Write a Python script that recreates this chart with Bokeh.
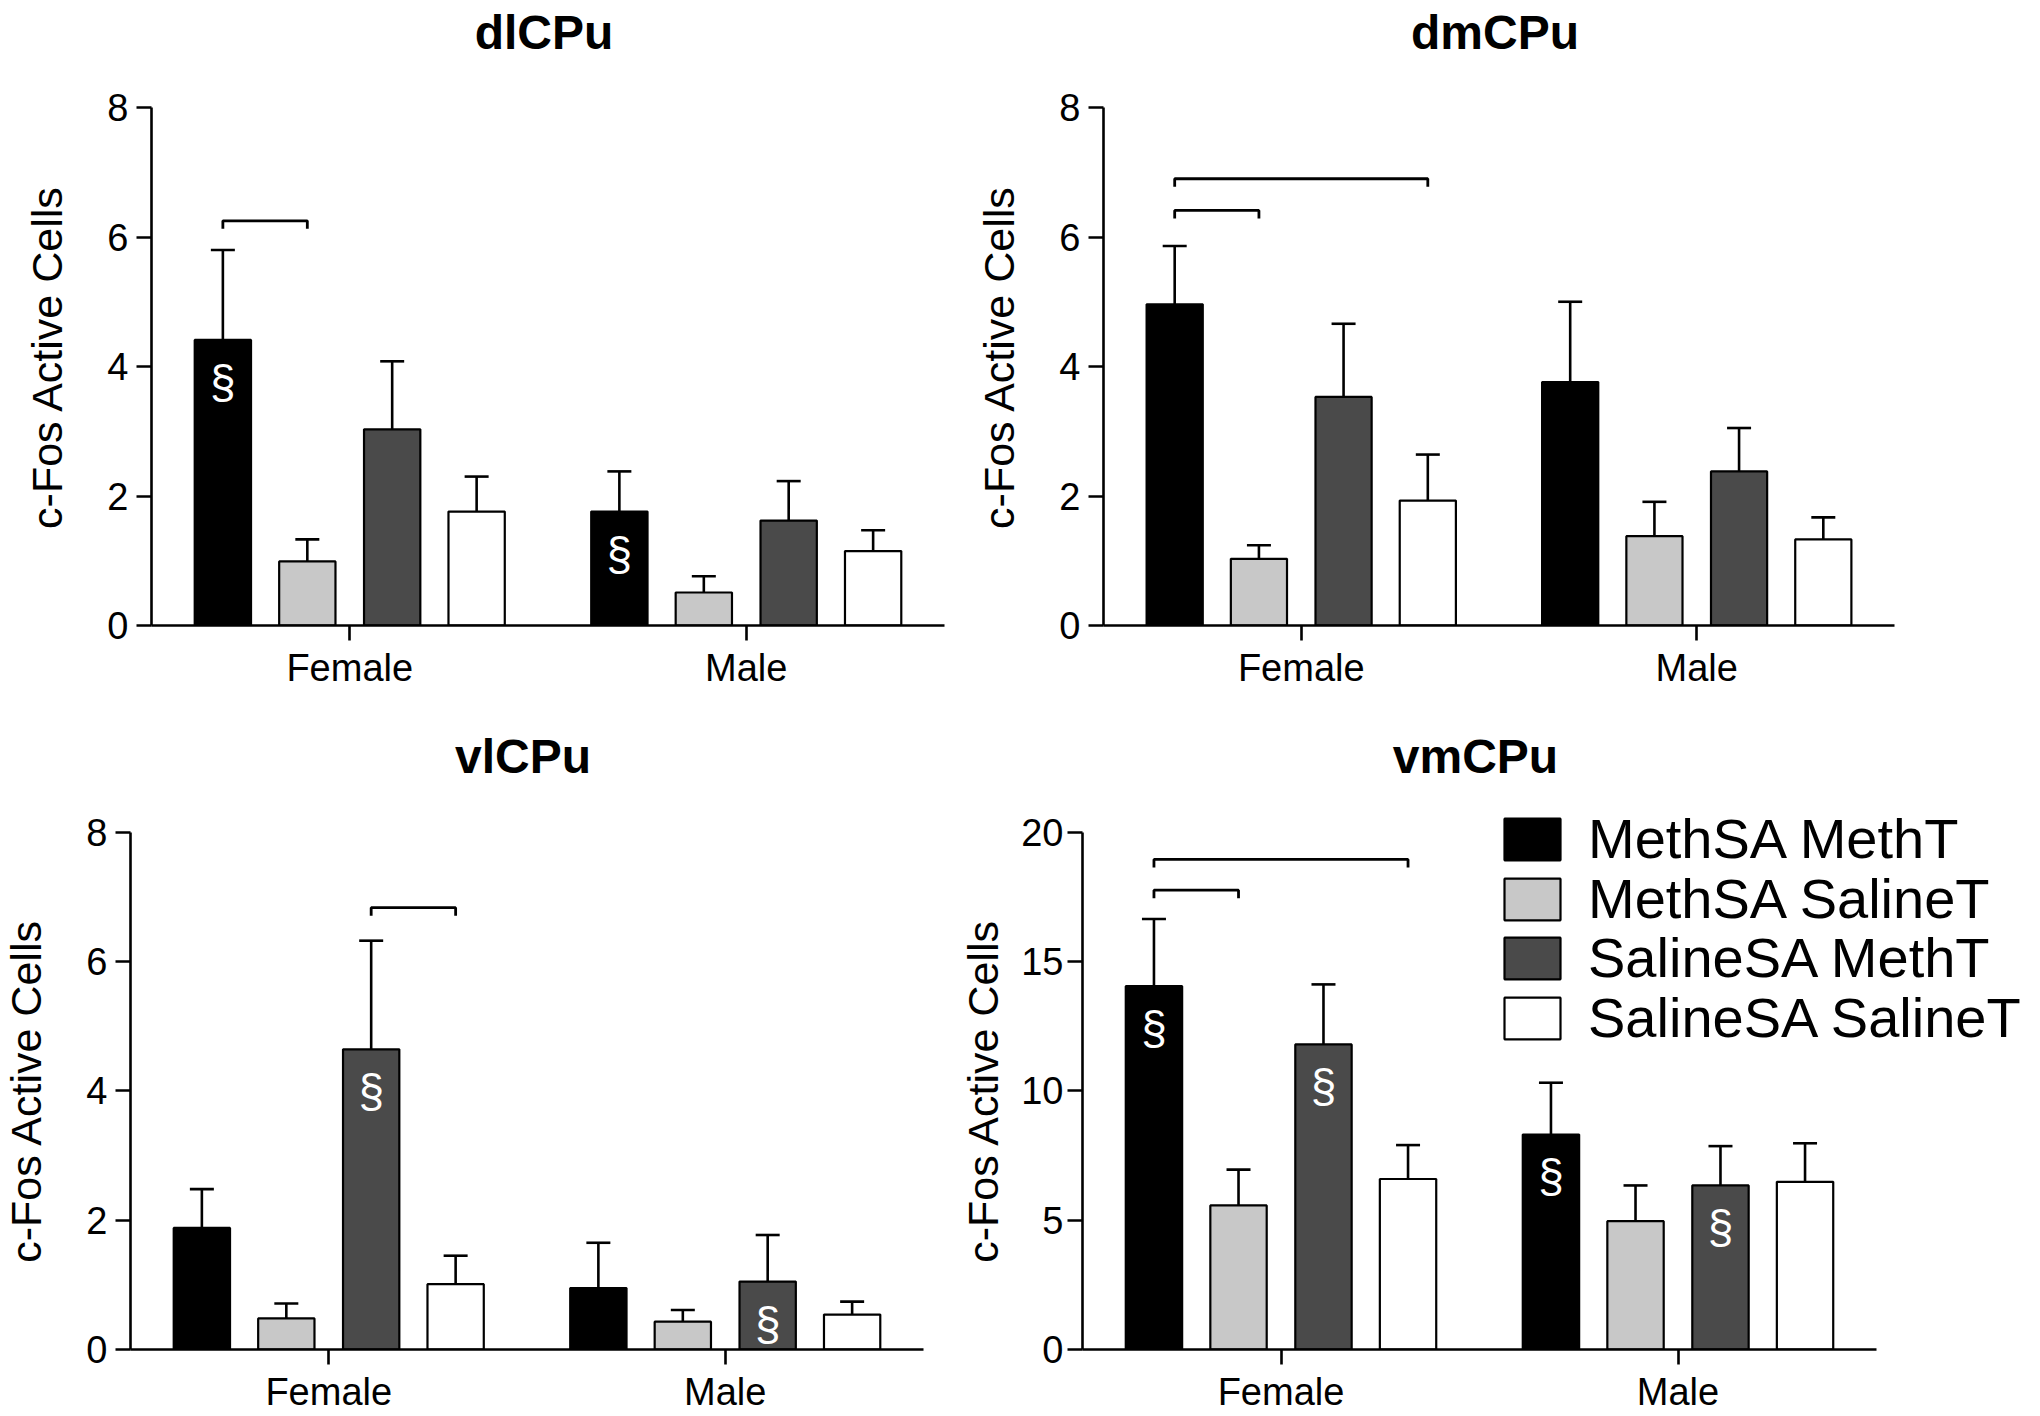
import math
from bokeh.plotting import figure
from bokeh.models import (Range1d, FixedTicker, ColumnDataSource, Whisker, TeeHead,
                          Legend, LegendItem)
from bokeh.layouts import column, row
from bokeh.embed import file_html
from bokeh.resources import INLINE
from bokeh.core.properties import value

# ---------------- data ----------------
GROUPS = ["Female", "Male"]
SERIES = ["MethSA MethT", "MethSA SalineT", "SalineSA MethT", "SalineSA SalineT"]
Y_LABEL = "c-Fos Active Cells"

# dlCPu
DL_FEMALE_MEAN = [4.41, 0.99, 3.03, 1.76]
DL_FEMALE_SEM = [1.39, 0.34, 1.05, 0.54]
DL_MALE_MEAN = [1.76, 0.51, 1.62, 1.15]
DL_MALE_SEM = [0.62, 0.25, 0.61, 0.32]
DL_SECTIONS = [("Female", 0), ("Male", 0)]
DL_BRACKETS = [("Female", 0, 1, 6.25)]
DL_TICKS = [0, 2, 4, 6, 8]

# dmCPu
DM_FEMALE_MEAN = [4.96, 1.03, 3.53, 1.93]
DM_FEMALE_SEM = [0.90, 0.21, 1.13, 0.71]
DM_MALE_MEAN = [3.76, 1.38, 2.38, 1.33]
DM_MALE_SEM = [1.24, 0.53, 0.67, 0.34]
DM_SECTIONS = []
DM_BRACKETS = [("Female", 0, 1, 6.41), ("Female", 0, 3, 6.90)]
DM_TICKS = [0, 2, 4, 6, 8]

# vlCPu
VL_FEMALE_MEAN = [1.88, 0.48, 4.64, 1.01]
VL_FEMALE_SEM = [0.60, 0.23, 1.68, 0.44]
VL_MALE_MEAN = [0.95, 0.43, 1.05, 0.54]
VL_MALE_SEM = [0.70, 0.18, 0.72, 0.20]
VL_SECTIONS = [("Female", 2), ("Male", 2)]
VL_BRACKETS = [("Female", 2, 3, 6.83)]
VL_TICKS = [0, 2, 4, 6, 8]

# vmCPu
VM_FEMALE_MEAN = [14.04, 5.57, 11.79, 6.59]
VM_FEMALE_SEM = [2.60, 1.38, 2.32, 1.31]
VM_MALE_MEAN = [8.31, 4.96, 6.34, 6.48]
VM_MALE_SEM = [2.00, 1.38, 1.52, 1.49]
VM_SECTIONS = [("Female", 0), ("Female", 2), ("Male", 0), ("Male", 2)]
VM_BRACKETS = [("Female", 0, 1, 17.75), ("Female", 0, 3, 18.94)]
VM_TICKS = [0, 5, 10, 15, 20]

# ---------------- style ----------------
FONT = "Liberation Sans"
COLORS = ["#000000", "#c8c8c8", "#4a4a4a", "#ffffff"]
CENTERS = [0.5, 1.5]
OFFSETS = [-0.32, -0.107, 0.107, 0.32]
BAR_W = 0.142


def style_fig(p):
    p.outline_line_color = None
    p.grid.visible = False
    p.background_fill_color = "white"
    p.border_fill_color = "white"


def make_ylabel(width, height, baseline_x, center_from_top):
    """Narrow strip holding the rotated y-axis title of a panel."""
    p = figure(width=width, height=height, output_backend="svg", toolbar_location=None,
               x_range=Range1d(0, width), y_range=Range1d(0, height),
               x_axis_type=None, y_axis_type=None,
               min_border_left=0, min_border_right=0, min_border_top=0, min_border_bottom=0)
    style_fig(p)
    p.text(x=[baseline_x], y=[height - center_from_top], text=[Y_LABEL], angle=math.pi / 2,
           text_font=value(FONT), text_font_size="43px", text_align="center",
           text_baseline="alphabetic", text_color="black")
    return p


def make_panel(title, f_mean, f_sem, m_mean, m_sem, sections, brackets, ticks,
               width, height, frame_left, axis_top, axis_y, xppu,
               tick_standoff, legend_rows=None):
    ymax = ticks[-1]
    yppu = (axis_y - axis_top) / ymax
    frame_w = width - frame_left
    p = figure(width=width, height=height, output_backend="svg", toolbar_location=None,
               x_range=Range1d(0, frame_w / xppu), y_range=Range1d(0, axis_y / yppu),
               min_border_left=frame_left, min_border_right=0, min_border_top=0,
               min_border_bottom=height - axis_y)
    style_fig(p)

    means = [f_mean, m_mean]
    sems = [f_sem, m_sem]
    renderers = []
    for i, name in enumerate(SERIES):
        xs = [c + OFFSETS[i] for c in CENTERS]
        tops = [means[g][i] for g in range(2)]
        ups = [means[g][i] + sems[g][i] for g in range(2)]
        src = ColumnDataSource(dict(x=xs, top=tops, up=ups))
        w = Whisker(source=src, base="x", lower="top", upper="up", dimension="height",
                    line_color="black", line_width=2.6,
                    upper_head=TeeHead(size=24, line_width=2.6, line_color="black"),
                    lower_head=None)
        p.add_layout(w)
        r = p.vbar(x="x", top="top", bottom=0, width=BAR_W, source=src,
                   fill_color=COLORS[i], line_color="black", line_width=2.2)
        renderers.append(r)

    # section signs
    if sections:
        sx = [CENTERS[GROUPS.index(g)] + OFFSETS[i] for g, i in sections]
        sy = [means[GROUPS.index(g)][i] for g, i in sections]
        p.text(x=sx, y=sy, text=["\u00a7"] * len(sx), text_color="white",
               text_font=value(FONT), text_font_size="46px", text_align="center",
               text_baseline="middle", y_offset=42)

    # significance brackets
    drop = 8.0 / yppu
    bxs, bys = [], []
    for g, i, j, h in brackets:
        c = CENTERS[GROUPS.index(g)]
        x1, x2 = c + OFFSETS[i], c + OFFSETS[j]
        bxs.append([x1, x1, x2, x2])
        bys.append([h - drop, h, h, h - drop])
    if bxs:
        p.multi_line(xs=bxs, ys=bys, line_color="black", line_width=2.8)

    # panel title
    p.text(x=[1.0 - 4.0 / xppu], y=[ymax * 9.16 / 8.0], text=[title],
           text_font=value(FONT), text_font_style="bold", text_font_size="48px",
           text_align="center", text_baseline="middle", text_color="black")

    # axes
    xa = p.xaxis[0]
    xa.ticker = FixedTicker(ticks=CENTERS)
    xa.major_label_overrides = {CENTERS[0]: GROUPS[0], CENTERS[1]: GROUPS[1]}
    xa.bounds = (0, 2)
    xa.minor_tick_line_color = None
    xa.major_tick_in = 0
    xa.major_tick_out = 15
    xa.major_label_standoff = 6
    xa.major_label_text_font = FONT
    xa.major_label_text_font_size = "38px"
    xa.major_label_text_color = "black"
    xa.axis_line_width = 2.6
    xa.major_tick_line_width = 2.6
    xa.axis_line_color = "black"
    xa.major_tick_line_color = "black"

    ya = p.yaxis[0]
    ya.ticker = FixedTicker(ticks=ticks)
    ya.bounds = (0, ymax)
    ya.minor_tick_line_color = None
    ya.major_tick_in = 0
    ya.major_tick_out = 15
    ya.major_label_standoff = tick_standoff
    ya.major_label_text_font = FONT
    ya.major_label_text_font_size = "38px"
    ya.major_label_text_color = "black"
    ya.axis_line_width = 2.6
    ya.major_tick_line_width = 2.6
    ya.axis_line_color = "black"
    ya.major_tick_line_color = "black"

    if legend_rows is not None:
        lx, lys = legend_rows
        for i, name in enumerate(SERIES):
            lg = Legend(items=[LegendItem(label=name, renderers=[renderers[i]])],
                        location=(lx, lys[i]), orientation="vertical",
                        glyph_width=70, glyph_height=52, label_standoff=21,
                        label_text_font=FONT, label_text_font_size="56px",
                        label_text_color="black", label_height=52, spacing=0,
                        padding=0, margin=0, border_line_color=None,
                        background_fill_alpha=0)
            p.add_layout(lg, "center")
    return p


TOP_H = 712
BOT_H = 704

l1 = make_ylabel(90, TOP_H, 46, 406)
p1 = make_panel("dlCPu", DL_FEMALE_MEAN, DL_FEMALE_SEM, DL_MALE_MEAN, DL_MALE_SEM,
                DL_SECTIONS, DL_BRACKETS, DL_TICKS,
                870, TOP_H, 61, 107, 625, 396.5, 8)
l2 = make_ylabel(90, TOP_H, 38, 406)
p2 = make_panel("dmCPu", DM_FEMALE_MEAN, DM_FEMALE_SEM, DM_MALE_MEAN, DM_MALE_SEM,
                DM_SECTIONS, DM_BRACKETS, DM_TICKS,
                990, TOP_H, 53, 107, 625, 395.5, 8)
l3 = make_ylabel(70, BOT_H, 25, 418)
p3 = make_panel("vlCPu", VL_FEMALE_MEAN, VL_FEMALE_SEM, VL_MALE_MEAN, VL_MALE_SEM,
                VL_SECTIONS, VL_BRACKETS, VL_TICKS,
                870, BOT_H, 60, 119.5, 637, 396.5, 8)
l4 = make_ylabel(78, BOT_H, 42, 418)
p4 = make_panel("vmCPu", VM_FEMALE_MEAN, VM_FEMALE_SEM, VM_MALE_MEAN, VM_MALE_SEM,
                VM_SECTIONS, VM_BRACKETS, VM_TICKS,
                1022, BOT_H, 64, 119.5, 637, 397.0, 4,
                legend_rows=(415, [478, 418, 359, 299]))

layout = column(row(l1, p1, l2, p2), row(l3, p3, l4, p4))
open("out.html", "w").write(file_html(layout, INLINE))
